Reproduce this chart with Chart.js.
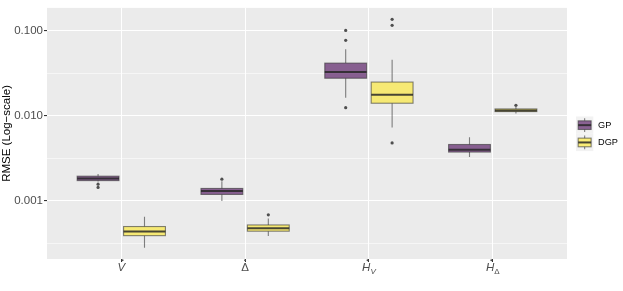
<!DOCTYPE html>
<html>
<head>
<meta charset="utf-8">
<script src="https://cdn.jsdelivr.net/npm/chart.js@4/dist/chart.umd.min.js"></script>
<style>
html, body { margin: 0; padding: 0; background: #fff; }
</style>
</head>
<body>
<canvas id="myChart" width="623" height="291"></canvas>
<script>
// categorias del eje x (letra principal + subindice)
var catMain = ['V', 'Δ', 'H', 'H'];
var catSub = ['', '', 'V', 'Δ'];
var catItalic = [true, false, true, true];
var series = ['GP', 'DGP'];

// estadisticos de cada caja (RMSE)
var gpLower = [0.00169, 0.000995, 0.0162, 0.00328];
var gpQ1 = [0.00173, 0.00119, 0.0275, 0.00374];
var gpMedian = [0.00183, 0.00131, 0.0326, 0.00398];
var gpQ3 = [0.00195, 0.00140, 0.0414, 0.00459];
var gpUpper = [0.00207, 0.00170, 0.0600, 0.00557];
var gpOutliers = [[0.00157, 0.00144], [0.00180], [0.100, 0.0767, 0.0124], []];

var dgpLower = [0.000281, 0.000386, 0.00726, 0.01059];
var dgpQ1 = [0.000391, 0.000441, 0.0140, 0.01117];
var dgpMedian = [0.000438, 0.000477, 0.0176, 0.01148];
var dgpQ3 = [0.000500, 0.000522, 0.0248, 0.0120];
var dgpUpper = [0.000652, 0.000623, 0.0452, 0.01265];
var dgpOutliers = [[], [0.000687], [0.135, 0.115, 0.00479], [0.01324]];

// ticks del eje y (mayores con etiqueta, menores solo grilla)
var yTicks = [0.000316, 0.001, 0.00316, 0.01, 0.0316, 0.1];
var yMajor = [0.001, 0.01, 0.1];

var gpFill = 'rgba(68,1,84,0.6)';
var dgpFill = 'rgba(253,231,37,0.6)';
var lineCol = 'rgba(51,51,51,0.6)';
var medCol = 'rgba(40,40,40,0.85)';
var dodge = 0.1875;
var halfBox = 0.169;
var fontFam = '"Liberation Sans", Arial, sans-serif';

function isMajor(v) {
    for (var k = 0; k < yMajor.length; k++) {
        if (Math.abs(v - yMajor[k]) / yMajor[k] < 0.01) return true;
    }
    return false;
}

// puntos atipicos como datasets scatter
function outlierPoints(list, offset) {
    var pts = [];
    for (var i = 0; i < list.length; i++) {
        for (var j = 0; j < list[i].length; j++) {
            pts.push({ x: i + 1 + offset, y: list[i][j] });
        }
    }
    return pts;
}

var gpStats = { lo: gpLower, q1: gpQ1, med: gpMedian, q3: gpQ3, hi: gpUpper };
var dgpStats = { lo: dgpLower, q1: dgpQ1, med: dgpMedian, q3: dgpQ3, hi: dgpUpper };

function drawBoxes(chart, st, offset, fill) {
    var ctx = chart.ctx, xs = chart.scales.x, ys = chart.scales.y;
    for (var i = 0; i < st.med.length; i++) {
        var cx = xs.getPixelForValue(i + 1 + offset);
        var left = xs.getPixelForValue(i + 1 + offset - halfBox);
        var right = xs.getPixelForValue(i + 1 + offset + halfBox);
        var yLo = ys.getPixelForValue(st.lo[i]);
        var yQ1 = ys.getPixelForValue(st.q1[i]);
        var yMed = ys.getPixelForValue(st.med[i]);
        var yQ3 = ys.getPixelForValue(st.q3[i]);
        var yHi = ys.getPixelForValue(st.hi[i]);
        ctx.save();
        ctx.strokeStyle = lineCol;
        ctx.lineWidth = 1.1;
        ctx.beginPath();
        ctx.moveTo(cx, yHi); ctx.lineTo(cx, yQ3);
        ctx.moveTo(cx, yQ1); ctx.lineTo(cx, yLo);
        ctx.stroke();
        ctx.fillStyle = fill;
        ctx.fillRect(left, yQ3, right - left, yQ1 - yQ3);
        ctx.strokeRect(left, yQ3, right - left, yQ1 - yQ3);
        ctx.strokeStyle = medCol;
        ctx.lineWidth = 2;
        ctx.beginPath();
        ctx.moveTo(left, yMed); ctx.lineTo(right, yMed);
        ctx.stroke();
        ctx.restore();
    }
}

var boxPlugin = {
    id: 'boxes',
    beforeDraw: function(chart) {
        var a = chart.chartArea, ctx = chart.ctx;
        ctx.save();
        ctx.fillStyle = '#EBEBEB';
        ctx.fillRect(a.left, a.top, a.right - a.left, a.bottom - a.top);
        ctx.restore();
    },
    beforeDatasetsDraw: function(chart) {
        drawBoxes(chart, gpStats, -dodge, gpFill);
        drawBoxes(chart, dgpStats, dodge, dgpFill);
    },
    afterDraw: function(chart) {
        var ctx = chart.ctx, xs = chart.scales.x;
        ctx.save();
        ctx.fillStyle = '#4D4D4D';
        ctx.textBaseline = 'alphabetic';
        ctx.textAlign = 'left';
        // etiquetas del eje x con punto y subindice
        for (var i = 0; i < catMain.length; i++) {
            var cx = xs.getPixelForValue(i + 1);
            var mainFont = (catItalic[i] ? 'italic ' : '') + '11.5px ' + fontFam;
            var subFont = (catSub[i] === 'V' ? 'italic ' : '') + '8px ' + fontFam;
            ctx.font = mainFont;
            var mw = ctx.measureText(catMain[i]).width;
            ctx.font = subFont;
            var sw = catSub[i] ? ctx.measureText(catSub[i]).width : 0;
            var x0 = cx - (mw + sw) / 2;
            var base = 271;
            ctx.font = mainFont;
            ctx.fillText(catMain[i], x0, base);
            ctx.beginPath();
            ctx.arc(x0 + mw / 2 + (catItalic[i] ? 1.3 : 0), base - 10.8, 1.0, 0, Math.PI * 2);
            ctx.fill();
            if (catSub[i]) {
                ctx.font = subFont;
                ctx.fillText(catSub[i], x0 + mw, base + 3);
            }
        }
        // leyenda
        var fills = [gpFill, dgpFill];
        var kx = 576, ky = 116.5, ks = 17.3;
        for (var s = 0; s < series.length; s++) {
            var top = ky + s * ks;
            ctx.fillStyle = '#F2F2F2';
            ctx.fillRect(kx, top, ks, ks);
            var mid = kx + ks / 2;
            ctx.strokeStyle = lineCol;
            ctx.lineWidth = 1.1;
            ctx.beginPath();
            ctx.moveTo(mid, top + ks * 0.1); ctx.lineTo(mid, top + ks * 0.25);
            ctx.moveTo(mid, top + ks * 0.75); ctx.lineTo(mid, top + ks * 0.9);
            ctx.stroke();
            ctx.fillStyle = fills[s];
            ctx.fillRect(kx + ks * 0.125, top + ks * 0.25, ks * 0.75, ks * 0.5);
            ctx.strokeRect(kx + ks * 0.125, top + ks * 0.25, ks * 0.75, ks * 0.5);
            ctx.strokeStyle = medCol;
            ctx.lineWidth = 2;
            ctx.beginPath();
            ctx.moveTo(kx + ks * 0.125, top + ks / 2); ctx.lineTo(kx + ks * 0.875, top + ks / 2);
            ctx.stroke();
            ctx.fillStyle = '#000';
            ctx.font = '9.2px ' + fontFam;
            ctx.textBaseline = 'middle';
            ctx.fillText(series[s], 598, top + ks / 2);
        }
        ctx.restore();
    }
};

var ctx = document.getElementById('myChart');
var myChart = new Chart(ctx, {
    type: 'scatter',
    data: {
        datasets: [{
            label: 'GP',
            data: outlierPoints(gpOutliers, -dodge),
            pointRadius: 1.6,
            pointBackgroundColor: 'rgba(51,51,51,0.85)',
            pointBorderWidth: 0
        }, {
            label: 'DGP',
            data: outlierPoints(dgpOutliers, dodge),
            pointRadius: 1.6,
            pointBackgroundColor: 'rgba(51,51,51,0.85)',
            pointBorderWidth: 0
        }]
    },
    options: {
        responsive: false,
        animation: false,
        layout: { padding: { top: 3, right: 56, left: 0, bottom: 0 } },
        plugins: { legend: { display: false }, tooltip: { enabled: false } },
        scales: {
            x: {
                type: 'linear',
                min: 0.4,
                max: 4.6,
                afterBuildTicks: function(scale) {
                    scale.ticks = [1, 2, 3, 4].map(function(v) { return { value: v }; });
                },
                afterFit: function(scale) { scale.height = 32; },
                ticks: { callback: function() { return ''; } },
                grid: { color: '#FFFFFF', lineWidth: 1, tickLength: 3, tickColor: '#333333' },
                border: { display: false }
            },
            y: {
                type: 'logarithmic',
                min: 0.000208,
                max: 0.184,
                afterBuildTicks: function(scale) {
                    scale.ticks = yTicks.map(function(v) { return { value: v }; });
                },
                afterFit: function(scale) { scale.width = 47; },
                ticks: {
                    autoSkip: false,
                    padding: 1,
                    color: '#4D4D4D',
                    font: { family: fontFam, size: 11.5 },
                    callback: function(v) { return isMajor(v) ? v.toFixed(3) : ''; }
                },
                grid: {
                    color: '#FFFFFF',
                    tickLength: 3,
                    lineWidth: function(c) { return c.tick && isMajor(c.tick.value) ? 1.1 : 0.55; },
                    tickColor: function(c) { return c.tick && isMajor(c.tick.value) ? '#333333' : 'rgba(0,0,0,0)'; }
                },
                border: { display: false },
                title: {
                    display: true,
                    text: 'RMSE (Log\u2212scale)',
                    color: '#000',
                    padding: { top: 0, bottom: 0 },
                    font: { family: fontFam, size: 11.5 }
                }
            }
        }
    },
    plugins: [boxPlugin]
});
</script>
</body>
</html>
